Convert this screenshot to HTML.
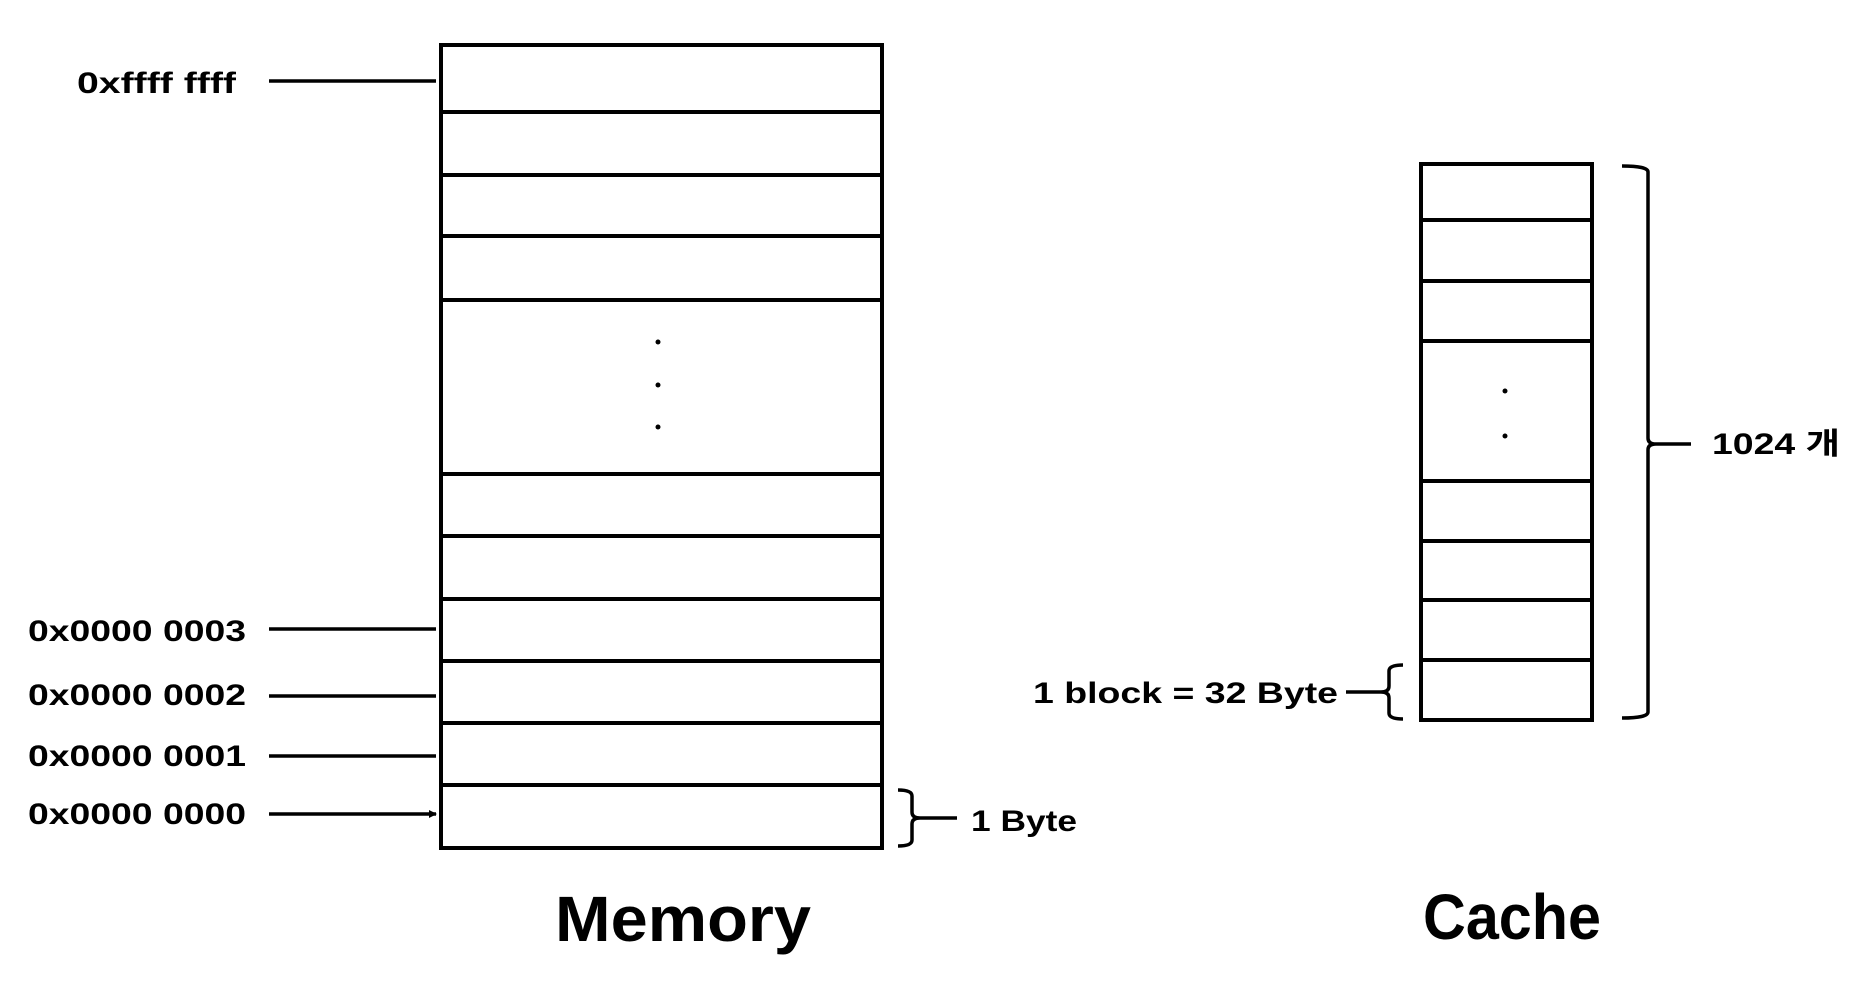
<!DOCTYPE html>
<html><head><meta charset="utf-8"><style>html,body{margin:0;padding:0;background:#fff}svg{display:block}</style></head>
<body>
<svg width="1852" height="982" viewBox="0 0 1852 982" xmlns="http://www.w3.org/2000/svg">
<defs><marker id="ar" markerWidth="8" markerHeight="8" refX="7" refY="4" orient="auto" markerUnits="userSpaceOnUse"><path d="M0,0 L8,4 L0,8 z" fill="#000"/></marker></defs>
<g stroke="#000" stroke-width="4" fill="none">
<rect x="441" y="45" width="441" height="803"/>
<path d="M441 112H882M441 175H882M441 236H882M441 300H882M441 474H882M441 536H882M441 599H882M441 661H882M441 723H882M441 785H882"/>
<rect x="1421" y="164" width="171" height="556"/>
<path d="M1421 220H1592M1421 281H1592M1421 341H1592M1421 481H1592M1421 541H1592M1421 600H1592M1421 660H1592"/>
</g>
<g stroke="#000" stroke-width="3.5" fill="none">
<path d="M269 81H436M269 629H436M269 696H436M269 756H436M269 814H436" marker-end="url(#ar)"/>
<path d="M898 790 Q912 790 912 796 V812 Q912 818 920 818 Q912 818 912 824 V840 Q912 846 898 846"/>
<path d="M920 818H957"/>
<path d="M1622 166 Q1648 166 1648 172 V438 Q1648 444 1656 444 Q1648 444 1648 450 V712 Q1648 718 1622 718"/>
<path d="M1656 444H1691"/>
<path d="M1403 665 Q1389 665 1389 671 V686 Q1389 692 1381 692 Q1389 692 1389 698 V713 Q1389 719 1403 719"/>
<path d="M1346 692H1381"/>
</g>
<g fill="#000">
<circle cx="658" cy="342" r="2.5"/><circle cx="658" cy="385" r="2.5"/><circle cx="658" cy="427" r="2.5"/>
<circle cx="1505" cy="391" r="2.5"/><circle cx="1505" cy="436" r="2.5"/>
</g>
<g font-family="Liberation Sans, Noto Sans CJK KR, sans-serif" font-weight="bold" font-size="30" fill="#000">
<text x="77" y="93" textLength="159" lengthAdjust="spacingAndGlyphs">0xffff ffff</text>
<text x="28" y="641" textLength="218" lengthAdjust="spacingAndGlyphs">0x0000 0003</text>
<text x="28" y="705" textLength="218" lengthAdjust="spacingAndGlyphs">0x0000 0002</text>
<text x="28" y="766" textLength="218" lengthAdjust="spacingAndGlyphs">0x0000 0001</text>
<text x="28" y="824" textLength="218" lengthAdjust="spacingAndGlyphs">0x0000 0000</text>
<text x="971" y="831" textLength="106" lengthAdjust="spacingAndGlyphs">1 Byte</text>
<text x="1033" y="703" textLength="305" lengthAdjust="spacingAndGlyphs">1 block = 32 Byte</text>
<text x="1712" y="454" textLength="128" lengthAdjust="spacingAndGlyphs">1024 개</text>
<text x="555" y="941" font-size="64" textLength="256" lengthAdjust="spacingAndGlyphs">Memory</text>
<text x="1423" y="939" font-size="64" textLength="178" lengthAdjust="spacingAndGlyphs">Cache</text>
</g>
</svg>
</body></html>
